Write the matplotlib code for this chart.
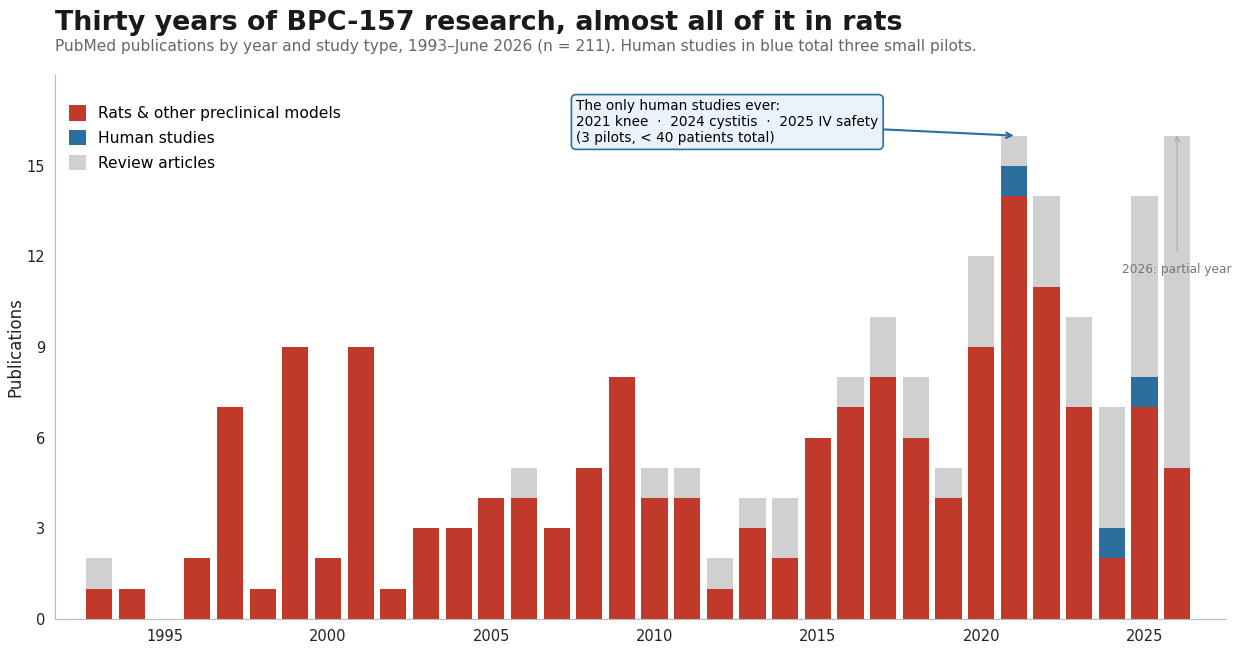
import numpy as np
import matplotlib.pyplot as plt

years = list(range(1993, 2027))
rats = [1, 1, 0, 2, 7, 1, 9, 2, 9, 1, 3, 3, 4, 4, 3, 5, 8, 4, 4, 1, 3, 2,
        6, 7, 8, 6, 4, 9, 14, 11, 7, 2, 7, 5]
human = [0] * 28 + [1, 0, 0, 1, 1, 0]
reviews = [1, 0, 0, 0, 0, 0, 0, 0, 0, 0, 0, 0, 0, 1, 0, 0, 0, 1, 1, 1, 1, 2,
           0, 1, 2, 2, 1, 3, 1, 3, 3, 4, 6, 11]

RED = '#c0392b'
BLUE = '#2c6e9e'
GREY = '#d0d0d0'

rats = np.array(rats)
human = np.array(human)
reviews = np.array(reviews)

fig, ax = plt.subplots(figsize=(12.41, 6.48), dpi=100)
fig.subplots_adjust(left=0.044, right=0.988, top=0.884, bottom=0.045)

ax.bar(years, rats, width=0.8, color=RED, label='Rats & other preclinical models')
ax.bar(years, human, width=0.8, bottom=rats, color=BLUE, label='Human studies')
ax.bar(years, reviews, width=0.8, bottom=rats + human, color=GREY, label='Review articles')

ax.set_xlim(1991.63, 2027.5)
ax.set_ylim(0, 18)
ax.set_yticks([0, 3, 6, 9, 12, 15])
ax.set_xticks([1995, 2000, 2005, 2010, 2015, 2020, 2025])
ax.tick_params(length=0, labelsize=10.5, pad=7, labelcolor='#222222')
ax.set_ylabel('Publications', fontsize=12, labelpad=1, color='#222222')

for s in ['top', 'right']:
    ax.spines[s].set_visible(False)
for s in ['left', 'bottom']:
    ax.spines[s].set_color('#bbbbbb')

ax.legend(loc='upper left', bbox_to_anchor=(0.0, 0.97), frameon=False, fontsize=11.2,
          handlelength=1.15, handleheight=1.15, labelspacing=0.55, handletextpad=0.75)

fig.text(0.044, 0.965, 'Thirty years of BPC-157 research, almost all of it in rats',
         fontsize=19.4, fontweight='bold', color='#1a1a1a', va='center')
fig.text(0.044, 0.929, 'PubMed publications by year and study type, 1993\u2013June 2026 (n = 211). '
         'Human studies in blue total three small pilots.',
         fontsize=11.1, color='#666666', va='center')

ax.annotate('The only human studies ever:\n2021 knee  \u00b7  2024 cystitis  \u00b7  2025 IV safety\n'
            '(3 pilots, < 40 patients total)',
            xy=(2021, 16), xytext=(2007.6, 16.45), fontsize=9.8, va='center', ha='left',
            linespacing=1.15,
            bbox=dict(boxstyle='round,pad=0.35', fc='#eaf3fb', ec=BLUE, lw=1.2),
            arrowprops=dict(arrowstyle='->', color=BLUE, lw=1.5, shrinkA=0, shrinkB=0))

ax.annotate('2026: partial year', xy=(2026, 16), xytext=(2026, 11.55), fontsize=8.8,
            color='#777777', ha='center', va='center',
            arrowprops=dict(arrowstyle='->', color='#aaaaaa', lw=0.8, shrinkA=7, shrinkB=0))

plt.savefig('out.png', dpi=100)
